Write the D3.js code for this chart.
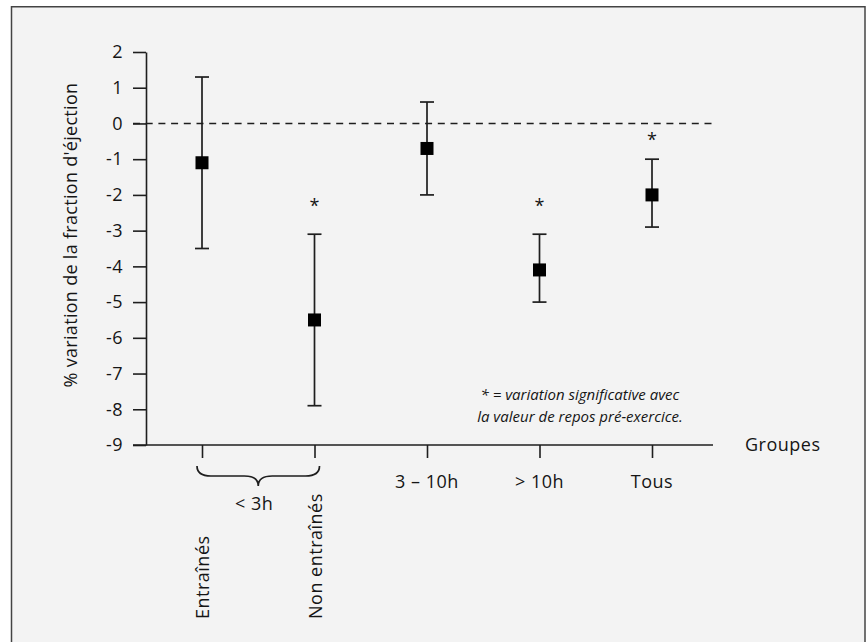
<!DOCTYPE html>
<html>
<head>
<meta charset="utf-8">
<script src="https://cdn.jsdelivr.net/npm/d3@7"></script>
<style>
  html, body { margin: 0; padding: 0; background: #ffffff; }
  svg { display: block; }
  text { font-family: "Open Sans", "Noto Sans", sans-serif; fill: #151515; }
</style>
</head>
<body>
<svg id="chart" width="866" height="642"></svg>
<script>
// ---- data ----
const groups = ["Entraînés", "Non entraînés", "3 – 10h", "> 10h", "Tous"];
const rotatedLabel = [true, true, false, false, false];
const means = [-1.1, -5.5, -0.7, -4.1, -2.0];
const upper = [1.3, -3.1, 0.6, -3.1, -1.0];
const lower = [-3.5, -7.9, -2.0, -5.0, -2.9];
const starAt = [null, -2.2, null, -2.2, -0.35];
const yTicks = [2, 1, 0, -1, -2, -3, -4, -5, -6, -7, -8, -9];
const bracketLabel = "< 3h";
const bracketGroups = ["Entraînés", "Non entraînés"];
const yTitle = "% variation de la fraction d'éjection";
const xTitle = "Groupes";
const noteLines = ["* = variation significative avec", "la valeur de repos pré-exercice."];

// ---- layout ----
const svg = d3.select("#chart");
svg.append("rect").attr("x", 11.5).attr("y", 6.75).attr("width", 853.5).attr("height", 660)
  .attr("fill", "#f3f3f3").attr("stroke", "#444").attr("stroke-width", 1.5);

const y = d3.scaleLinear().domain([-9, 2]).range([445, 52]);
const x = d3.scalePoint().domain(groups).range([202, 652]);
const axisX0 = 146, axisX1 = 713;

const ink = "#1e1e1e";
const fs = 18, ls = 0.5;

// y axis
const gy = svg.append("g").attr("transform", `translate(${axisX0},0)`)
  .call(d3.axisLeft(y).tickValues(yTicks).tickSize(13).tickSizeOuter(0).tickPadding(10)
    .tickFormat(d3.format("d")));
gy.select(".domain").attr("stroke", ink).attr("stroke-width", 1.6);
gy.selectAll(".tick line").attr("stroke", ink).attr("stroke-width", 1.6);
gy.selectAll(".tick text").attr("font-size", fs).attr("fill", "#151515")
  .attr("font-family", '"Open Sans", sans-serif').attr("letter-spacing", ls)
  .text(d => d < 0 ? "-" + Math.abs(d) : d);

// x axis
const gx = svg.append("g").attr("transform", `translate(0,${y(-9)})`)
  .call(d3.axisBottom(x).tickSize(13).tickSizeOuter(0).tickFormat(""));
gx.select(".domain").attr("d", `M${axisX0 - 13},0H${axisX1}`).attr("stroke", ink).attr("stroke-width", 1.6);
gx.selectAll(".tick line").attr("stroke", ink).attr("stroke-width", 1.6);

// zero dashed line
svg.append("line").attr("x1", axisX0 - 13).attr("x2", axisX1)
  .attr("y1", y(0)).attr("y2", y(0))
  .attr("stroke", ink).attr("stroke-width", 1.6).attr("stroke-dasharray", "7,5.7");

// error bars
const capW = 14, sq = 13;
const g = svg.append("g");
groups.forEach((grp, i) => {
  const cx = x(grp);
  g.append("line").attr("x1", cx).attr("x2", cx).attr("y1", y(upper[i])).attr("y2", y(lower[i]))
    .attr("stroke", ink).attr("stroke-width", 1.7);
  [upper[i], lower[i]].forEach(v => {
    g.append("line").attr("x1", cx - capW / 2).attr("x2", cx + capW / 2)
      .attr("y1", y(v)).attr("y2", y(v)).attr("stroke", ink).attr("stroke-width", 1.7);
  });
  g.append("rect").attr("x", cx - sq / 2).attr("y", y(means[i]) - sq / 2)
    .attr("width", sq).attr("height", sq).attr("fill", "#000");
  if (starAt[i] !== null) {
    g.append("text").attr("x", cx).attr("y", y(starAt[i]) + 10)
      .attr("text-anchor", "middle").attr("font-size", fs).text("*");
  }
});

// x labels
groups.forEach((grp, i) => {
  const cx = x(grp);
  if (rotatedLabel[i]) {
    svg.append("text").attr("transform", `translate(${cx + 7},619) rotate(-90)`)
      .attr("text-anchor", "start").attr("font-size", fs).attr("letter-spacing", ls).text(grp);
  } else {
    svg.append("text").attr("x", cx).attr("y", 488)
      .attr("text-anchor", "middle").attr("font-size", fs).attr("letter-spacing", ls).text(grp);
  }
});

// brace for < 3h
const bx0 = x(bracketGroups[0]) - 5, bx1 = x(bracketGroups[1]) + 5;
const bm = (bx0 + bx1) / 2;
const bTop = 466, bMid = 476, bTip = 486;
svg.append("path")
  .attr("d", `M${bx0},${bTop} Q${bx0},${bMid} ${bx0 + 14},${bMid} L${bm - 14},${bMid} Q${bm},${bMid} ${bm},${bTip} Q${bm},${bMid} ${bm + 14},${bMid} L${bx1 - 14},${bMid} Q${bx1},${bMid} ${bx1},${bTop}`)
  .attr("fill", "none").attr("stroke", ink).attr("stroke-width", 1.7);
svg.append("text").attr("x", bm - 4).attr("y", 510).attr("text-anchor", "middle")
  .attr("font-size", fs).attr("letter-spacing", ls).text(bracketLabel);

// axis titles
svg.append("text").attr("transform", `translate(77,235) rotate(-90)`)
  .attr("text-anchor", "middle").attr("font-size", fs).attr("letter-spacing", 0.3).text(yTitle);
svg.append("text").attr("x", 745).attr("y", y(-9) + 6)
  .attr("font-size", fs).attr("letter-spacing", ls).text(xTitle);

// note
noteLines.forEach((t, k) => {
  svg.append("text").attr("x", 580).attr("y", 400 + k * 22).attr("text-anchor", "middle")
    .attr("font-size", 15).attr("font-style", "italic").attr("fill", "#333").text(t);
});
</script>
</body>
</html>
